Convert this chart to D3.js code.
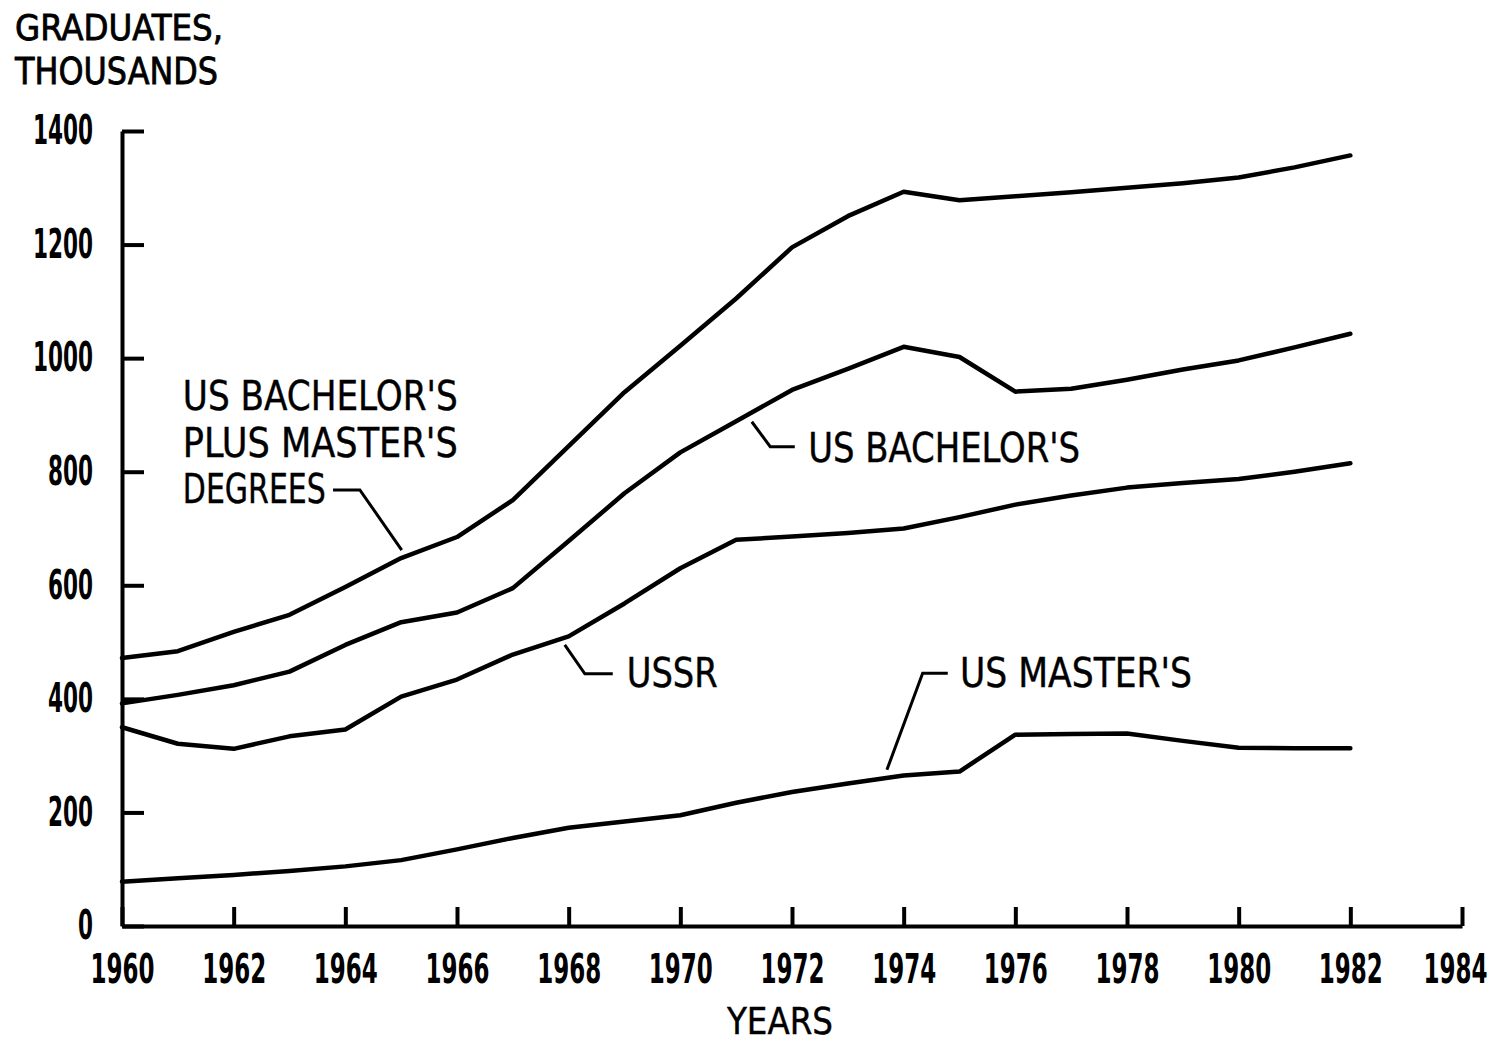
<!DOCTYPE html>
<html>
<head>
<meta charset="utf-8">
<script src="https://cdn.jsdelivr.net/npm/d3@7"></script>
<style>
  body { margin: 0; background: #fff; }
  text { font-family: "Liberation Sans Narrow", "DejaVu Sans Condensed", "Arial Narrow", sans-serif; fill: #000; }
</style>
</head>
<body>
<div id="chart"></div>
<script>
// data (thousands of graduates)
var years = [1960, 1961, 1962, 1963, 1964, 1965, 1966, 1967, 1968, 1969, 1970, 1971,
  1972, 1973, 1974, 1975, 1976, 1977, 1978, 1979, 1980, 1981, 1982];

var bachPlusMasters = [472, 484, 518, 548, 597, 648, 685, 750, 845, 940, 1022, 1105,
  1195, 1250, 1293, 1278, 1285, 1292, 1300, 1308, 1318, 1336, 1357];
var bachelors = [392, 407, 424, 448, 495, 535, 552, 595, 678, 762, 834, 889,
  944, 981, 1020, 1002, 941, 946, 962, 980, 996, 1019, 1043];
var ussr = [350, 321, 312, 334, 346, 404, 434, 478, 510, 568, 630, 680,
  686, 692, 700, 720, 742, 758, 772, 780, 787, 800, 815];
var masters = [78, 84, 90, 97, 105, 116, 135, 155, 173, 184, 195, 217,
  236, 251, 265, 272, 337, 338, 339, 326, 314, 313, 313];

var xTicks = [1960, 1962, 1964, 1966, 1968, 1970, 1972, 1974, 1976, 1978, 1980, 1982, 1984];
var yTicks = [0, 200, 400, 600, 800, 1000, 1200, 1400];

var svgWidth = 1502;
var svgHeight = 1043;

var margin = { top: 131, right: 40, bottom: 117, left: 122 };
var width = 1462 - margin.left;
var height = 926 - margin.top;

var svg = d3.select("#chart")
  .append("svg")
  .attr("width", svgWidth)
  .attr("height", svgHeight);

var chartGroup = svg.append("g")
  .attr("transform", `translate(${margin.left}, ${margin.top})`);

var xScale = d3.scaleLinear().domain([1960, 1984]).range([0, width]);
var yScale = d3.scaleLinear().domain([0, 1400]).range([height, 0]);

// squeeze a text horizontally to a given width (the original face is condensed)
function fitWidth(sel, w) {
  sel.each(function (d) {
    var t = d3.select(this);
    var target = typeof w === "function" ? w(d) : w;
    var natural = this.getComputedTextLength();
    var x = +t.attr("x") || 0;
    var y = +t.attr("y") || 0;
    t.attr("x", 0).attr("y", 0)
      .attr("transform", `translate(${x}, ${y}) scale(${target / natural}, 1)`);
  });
}

// axes: ticks point inward, as on the original
var bottomAxis = d3.axisBottom(xScale)
  .tickValues(xTicks)
  .tickFormat(d3.format("d"))
  .tickSizeInner(-19)
  .tickSizeOuter(0)
  .tickPadding(29);

var leftAxis = d3.axisLeft(yScale)
  .tickValues(yTicks)
  .tickFormat(d3.format("d"))
  .tickSizeInner(-22)
  .tickSizeOuter(0)
  .tickPadding(29);

var xAxis = chartGroup.append("g")
  .attr("transform", `translate(0, ${height})`)
  .call(bottomAxis);

var yAxis = chartGroup.append("g")
  .call(leftAxis);

[xAxis, yAxis].forEach(function (ax) {
  ax.select(".domain").attr("stroke", "#000").attr("stroke-width", 4);
  ax.selectAll(".tick line").attr("stroke", "#000").attr("stroke-width", 4);
  ax.selectAll(".tick text")
    .attr("font-size", 40)
    .attr("font-weight", "bold")
    .attr("fill", "#000")
    .attr("font-family", null);
});

// last label sits a little left of its tick, as drawn
xAxis.selectAll(".tick text").attr("x", d => d === 1984 ? -7 : 0);
fitWidth(xAxis.selectAll(".tick text"), 64);
fitWidth(yAxis.selectAll(".tick text"), d => String(d).length * 15);

// lines
var series = [bachPlusMasters, bachelors, ussr, masters];

var line = d3.line()
  .x((d, i) => xScale(years[i]))
  .y(d => yScale(d));

chartGroup.selectAll(".series")
  .data(series)
  .enter()
  .append("path")
  .classed("series", true)
  .attr("d", d => line(d))
  .attr("fill", "none")
  .attr("stroke", "#000")
  .attr("stroke-width", 4.5)
  .attr("stroke-linejoin", "round")
  .attr("stroke-linecap", "round");

// annotations: leaders given in data units, text as lines of a block
var notes = [
  { lines: ["US BACHELOR'S", "PLUS MASTER'S", "DEGREES"], widths: [275, 275, 143],
    at: [1961.09, 908], leader: [[1963.78, 768], [1964.26, 768], [1965.01, 662]] },
  { lines: ["US BACHELOR'S"], widths: [272],
    at: [1972.29, 817], leader: [[1971.28, 888], [1971.61, 844], [1972.05, 844]] },
  { lines: ["USSR"], widths: [91],
    at: [1969.04, 421], leader: [[1967.93, 495], [1968.29, 444], [1968.79, 444]] },
  { lines: ["US MASTER'S"], widths: [232],
    at: [1975.01, 421], leader: [[1973.70, 275], [1974.34, 445], [1974.79, 445]] }
];

var leaderLine = d3.line()
  .x(d => xScale(d[0]))
  .y(d => yScale(d[1]));

notes.forEach(function (n) {
  chartGroup.append("path")
    .attr("d", leaderLine(n.leader))
    .attr("fill", "none")
    .attr("stroke", "#000")
    .attr("stroke-width", 3);

  n.lines.forEach(function (t, i) {
    var txt = chartGroup.append("text")
      .attr("x", xScale(n.at[0]))
      .attr("y", yScale(n.at[1]) + i * 46.5)
      .attr("font-size", 41)
      .attr("stroke", "#000")
      .attr("stroke-width", 0.4)
      .text(t);
    fitWidth(txt, n.widths[i]);
  });
});

// axis titles
var gradLabel = svg.append("text")
  .attr("x", 15)
  .attr("y", 40)
  .attr("font-size", 36)
  .attr("stroke", "#000")
  .attr("stroke-width", 0.8)
  .text("GRADUATES,");
fitWidth(gradLabel, 208);

var thouLabel = svg.append("text")
  .attr("x", 15)
  .attr("y", 84)
  .attr("font-size", 38)
  .attr("stroke", "#000")
  .attr("stroke-width", 0.8)
  .text("THOUSANDS");
fitWidth(thouLabel, 203);

var yearsLabel = svg.append("text")
  .attr("x", 727)
  .attr("y", 1034)
  .attr("font-size", 38)
  .attr("stroke", "#000")
  .attr("stroke-width", 0.4)
  .text("YEARS");
fitWidth(yearsLabel, 106);
</script>
</body>
</html>
